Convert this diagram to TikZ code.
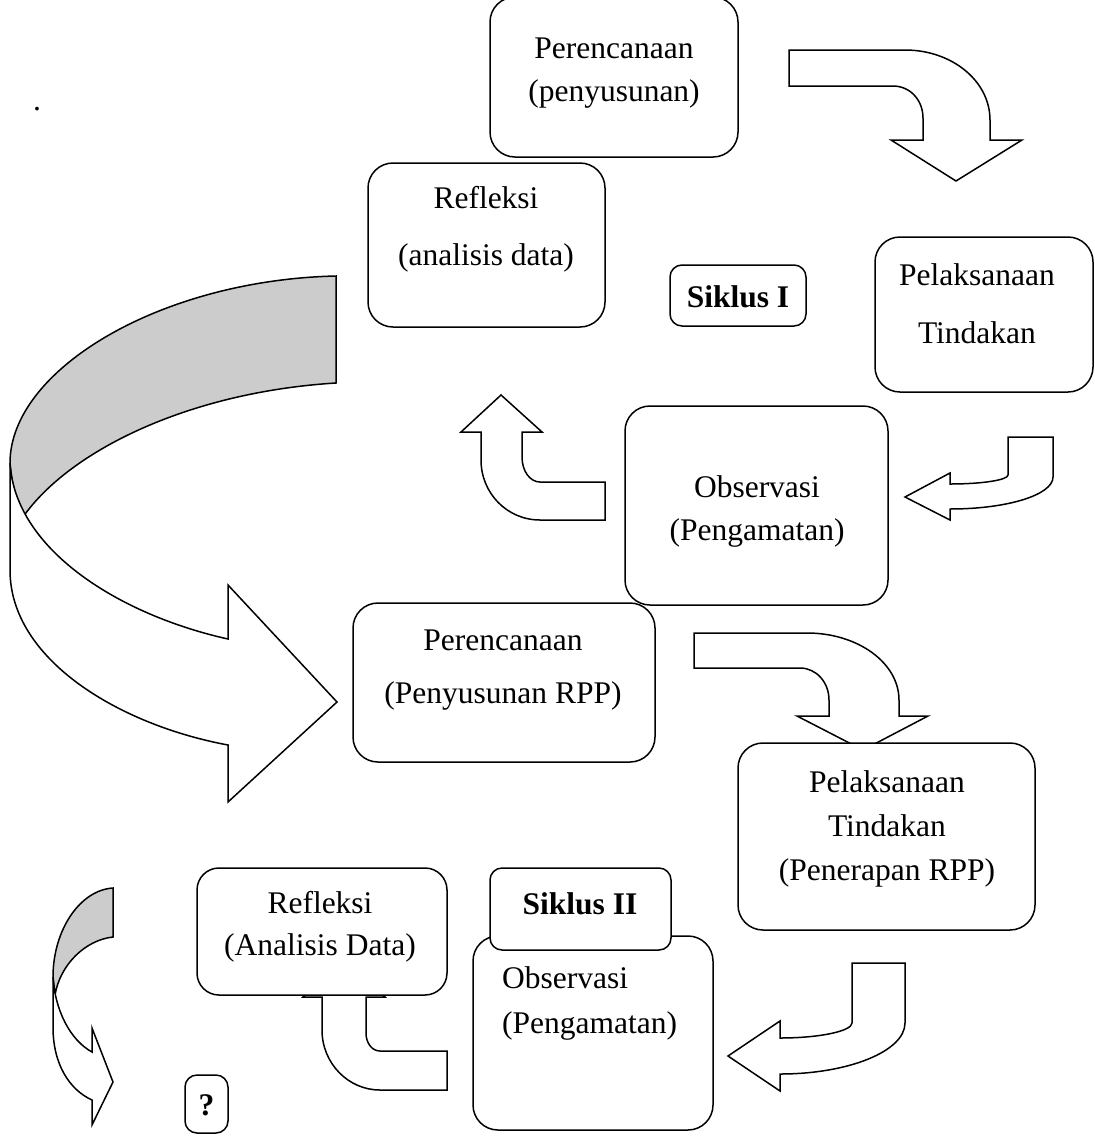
\documentclass[tikz,border=0pt]{standalone}
\usepackage{fontspec}
\setmainfont{Liberation Serif}
\begin{document}
\begin{tikzpicture}[x=1pt,y=-1pt,
  box/.style={draw, line width=1.5pt, fill=white, rounded corners=25pt, inner sep=0pt},
  sbox/.style={box, rounded corners=12pt},
  txt/.style={anchor=base, inner sep=0pt, font=\fontsize{31.5}{36}\selectfont},
  btxt/.style={txt, font=\fontsize{31.5}{36}\selectfont\bfseries},
  arr/.style={draw, line width=1.5pt, fill=white, line join=miter},
  garr/.style={draw, line width=1.5pt, fill=black!20}]
\useasboundingbox (0,0) rectangle (1095,1136);

\node[txt] (dot) at (37,110) {.};

% big curved arrow
\path[garr] (336,276) .. controls (160,280) and (10,370) .. (10,463)
  .. controls (12,485) and (16,500) .. (23,517)
  .. controls (70,450) and (190,392) .. (336,383) -- cycle;
\path[arr] (10,463) -- (10,570) .. controls (10,660) and (120,725) .. (228,745)
  -- (228,802) -- (337,702) -- (228,585) -- (228,639)
  .. controls (120,615) and (15,550) .. (10,463) -- cycle;

% small curved arrow
\path[garr] (113,888) .. controls (80,890) and (53,930) .. (53,977)
  -- (55,995) .. controls (60,965) and (85,940) .. (113,937) -- cycle;
\path[arr] (53,977) -- (53,1027) .. controls (53,1065) and (70,1090) .. (92,1100)
  -- (92,1125) -- (113,1082) -- (92,1028) -- (92,1052)
  .. controls (70,1040) and (55,1010) .. (53,977) -- cycle;

% boxes cycle I
\node[box, minimum width=248, minimum height=160] (p1) at (614,77) {};
\node[txt] (p1a) at (614,58) {Perencanaan};
\node[txt] (p1b) at (614,101) {(penyusunan)};

\node[box, minimum width=237, minimum height=164] (r1) at (486.5,245) {};
\node[txt] (r1a) at (486,208) {Refleksi};
\node[txt] (r1b) at (486,265) {(analisis data)};

\node[sbox, minimum width=136, minimum height=61] (s1) at (738,295.5) {};
\node[btxt] (s1a) at (738,307) {Siklus I};

\node[box, minimum width=218, minimum height=155] (l1) at (984,314.5) {};
\node[txt] (l1a) at (977,285) {Pelaksanaan};
\node[txt] (l1b) at (977,343) {Tindakan};

\node[box, minimum width=263, minimum height=199] (o1) at (756.5,505.5) {};
\node[txt] (o1a) at (757,497) {Observasi};
\node[txt] (o1b) at (757,540) {(Pengamatan)};

% arrows cycle I
\path[arr] (789,50) -- (905,50) .. controls (952,50) and (990,81) .. (990,120)
  -- (990,140) -- (1022,140) -- (956,181) -- (891,140) -- (923,140) -- (923,118)
  .. controls (923,100) and (910,86) .. (893,86) -- (789,86) -- cycle;
\path[arr] (501,395) -- (542,432) -- (522,432) -- (522,457)
  .. controls (522,471) and (530,482) .. (540,482) -- (605,482) -- (605,520) -- (540,520)
  .. controls (507,520) and (481,493) .. (481,460) -- (481,432) -- (461,432) -- cycle;
\path[arr] (1008,437) -- (1053,437) -- (1053,477)
  .. controls (1053,495) and (1007,509) .. (950,509) -- (950,520) -- (905,497) -- (950,473) -- (950,484)
  .. controls (982,484) and (1008,480) .. (1008,475) -- cycle;

% cycle II
\node[box, minimum width=302, minimum height=159] (p2) at (504,682.5) {};
\node[txt] (p2a) at (503,650) {Perencanaan};
\node[txt] (p2b) at (503,703) {(Penyusunan RPP)};

\path[arr] (694,633) -- (807,633) .. controls (858,633) and (899,663) .. (899,700)
  -- (899,716) -- (928,716) -- (863,750) -- (797,716) -- (829,716) -- (829,700)
  .. controls (829,682) and (816,668) .. (800,668) -- (694,668) -- cycle;

\node[box, minimum width=297, minimum height=187] (l2) at (886.5,836.5) {};
\node[txt] (l2a) at (887,792) {Pelaksanaan};
\node[txt] (l2b) at (887,836) {Tindakan};
\node[txt] (l2c) at (887,880) {(Penerapan RPP)};

\path[arr] (344,960) -- (385,997) -- (366,997) -- (366,1033)
  .. controls (366,1043) and (372,1051) .. (380,1051) -- (447,1051) -- (447,1090) -- (380,1090)
  .. controls (348,1090) and (322,1063) .. (322,1030) -- (322,997) -- (303,997) -- cycle;

\node[box, rounded corners=22pt, minimum width=250, minimum height=127] (r2) at (322,931.5) {};
\node[txt] (r2a) at (320,913) {Refleksi};
\node[txt] (r2b) at (320,955) {(Analisis Data)};

\node[box, minimum width=240, minimum height=194] (o2) at (593,1033) {};
\node[txt, anchor=base west] (o2a) at (502,988) {Observasi};
\node[txt, anchor=base west] (o2b) at (502,1033) {(Pengamatan)};

\node[sbox, minimum width=181, minimum height=82] (s2) at (580.5,909) {};
\node[btxt] (s2a) at (580,914) {Siklus II};

\path[arr] (852,963) -- (905,963) -- (905,1023)
  .. controls (905,1051) and (849,1074) .. (780,1074) -- (780,1091) -- (728,1056) -- (780,1021) -- (780,1038)
  .. controls (820,1038) and (852,1031) .. (852,1023) -- cycle;

\node[sbox, minimum width=43, minimum height=58] (q) at (206.5,1104) {};
\node[btxt] (qa) at (206.5,1115) {?};
\end{tikzpicture}
\end{document}
